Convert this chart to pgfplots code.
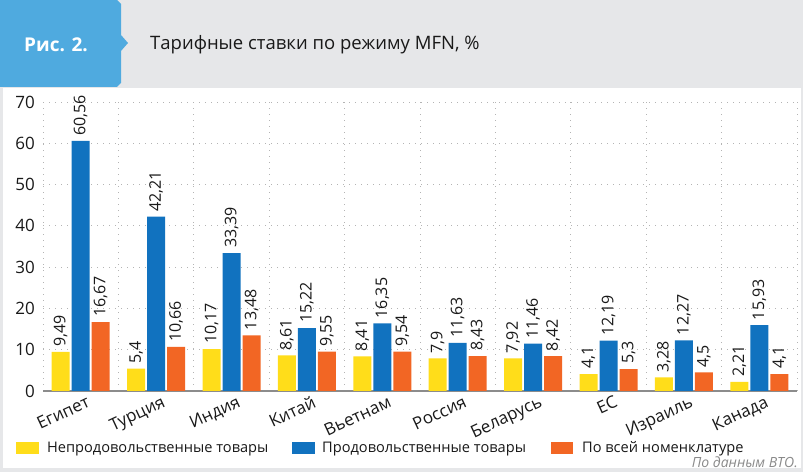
\documentclass[border=0pt]{standalone}
\usepackage{fontspec}
\setmainfont{Open Sans}
\usepackage{pgfplots}
\pgfplotsset{compat=1.18}
\definecolor{cyel}{HTML}{FFDD1A}
\definecolor{cblue}{HTML}{1172BF}
\definecolor{corange}{HTML}{F26624}
\definecolor{tabblue}{HTML}{4FAADF}
\definecolor{bggray}{HTML}{E6E7E9}
\definecolor{gridgray}{HTML}{B4B4B4}
\definecolor{basegray}{HTML}{8C8C8C}
\definecolor{srcgray}{HTML}{8A8A8A}
\newcommand{\fs}[1]{\fontsize{#1bp}{#1bp}\selectfont}
\begin{document}
\begin{tikzpicture}
\path[use as bounding box] (0,0) rectangle (803bp,472bp);
\fill[bggray] (0,0) rectangle (803bp,472bp);
\fill[white] (3bp,4bp) rectangle (801bp,384bp);
\fill[tabblue] (0,472bp) -- (117bp,472bp) -- (121bp,468bp) -- (121bp,437bp) -- (128bp,429bp) -- (121bp,421bp) -- (121bp,389bp) -- (117bp,385bp) -- (0,385bp) -- cycle;
\node[white, font=\bfseries\fs{19}, inner sep=0pt] at (56bp,427bp) {Рис. 2.};
\node[anchor=west, font=\fs{18.5}, inner sep=0pt, text=black!90] at (150bp,427bp) {Тарифные ставки по режиму MFN, \%};
\node[anchor=east, font=\itshape\fs{14}, inner sep=0pt, text=srcgray] at (798bp,10bp) {По данным ВТО.};
\begin{axis}[
  at={(43bp,81bp)}, anchor=south west, scale only axis,
  width=754bp, height=289bp,
  xmin=-0.5, xmax=9.5, ymin=0, ymax=70,
  clip=false,
  ybar=2bp, bar width=18bp,
  ytick={0,10,...,70},
  xtick={0,...,9},
  xticklabels={Египет,Турция,Индия,Китай,Вьетнам,Россия,Беларусь,ЕС,Израиль,Канада},
  minor xtick={-0.5,0.5,...,9.5},
  xminorgrids, ymajorgrids,
  major grid style={gridgray, line width=1bp, dash pattern=on 1.2bp off 4.8bp},
  minor grid style={gridgray, line width=1bp, dash pattern=on 1.2bp off 4.8bp},
  major tick length=0pt, minor tick length=0pt,
  axis x line*=bottom, axis y line*=left,
  y axis line style={draw=none},
  x axis line style={draw=basegray, line width=2bp, -},
  /pgf/number format/assume math mode=true,
  /pgf/number format/use comma,
  /pgf/number format/1000 sep={},
  yticklabel style={font=\fs{17}, inner sep=0pt, anchor=east, xshift=-8bp, text=black!90},
  xticklabel style={font=\fs{17}, inner sep=0pt, xshift=5bp, yshift=-4bp, rotate=25, anchor=north east, text=black!90},
  nodes near coords,
  every node near coord/.append style={rotate=90, anchor=west, inner xsep=5bp, inner ysep=0pt, font=\fs{16}, text=black!90},
  legend columns=3,
  legend style={at={(0,0)}, anchor=west, xshift=-27bp, yshift=-57bp, draw=none, fill=none, inner sep=0pt,
    nodes={inner sep=0pt, font=\fs{14.6}, text=black!90}},
  legend cell align=left,
]
\addplot[fill=cyel, draw=none,
  legend image code/.code={\fill[cyel] (0bp,-6bp) rectangle (23bp,6bp); \path (31bp,0bp);}]
  coordinates {(0,9.49) (1,5.4) (2,10.17) (3,8.61) (4,8.41) (5,7.9) (6,7.92) (7,4.1) (8,3.28) (9,2.21)};
\addlegendentry{\makebox[245bp][l]{Непродовольственные товары}}
\addplot[fill=cblue, draw=none,
  legend image code/.code={\fill[cblue] (0bp,-6bp) rectangle (23bp,6bp); \path (30bp,0bp);}]
  coordinates {(0,60.56) (1,42.21) (2,33.39) (3,15.22) (4,16.35) (5,11.63) (6,11.46) (7,12.19) (8,12.27) (9,15.93)};
\addlegendentry{\makebox[229bp][l]{Продовольственные товары}}
\addplot[fill=corange, draw=none,
  legend image code/.code={\fill[corange] (0bp,-6bp) rectangle (22bp,6bp); \path (31bp,0bp);}]
  coordinates {(0,16.67) (1,10.66) (2,13.48) (3,9.55) (4,9.54) (5,8.43) (6,8.42) (7,5.3) (8,4.5) (9,4.1)};
\addlegendentry{По всей номенклатуре}
\end{axis}
\end{tikzpicture}
\end{document}
